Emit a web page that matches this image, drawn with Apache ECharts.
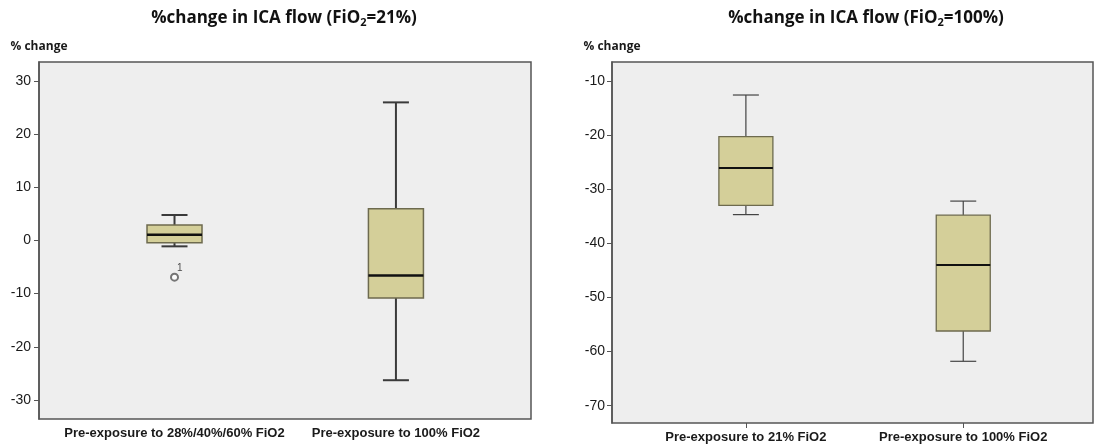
<!DOCTYPE html>
<html>
<head>
<meta charset="utf-8">
<script src="https://cdn.jsdelivr.net/npm/echarts@6/dist/echarts.min.js"></script>
<style>
html,body{margin:0;padding:0;background:#fff;}
#chart{width:1094px;height:448px;}
</style>
</head>
<body>
<div id="chart"></div>
<script>
// ---- data ----
const leftCategories = ['Pre-exposure to 28%/40%/60% FiO2', 'Pre-exposure to 100% FiO2'];
const leftLow  = [-1.1, -26.3];
const leftQ1   = [-0.4, -10.8];
const leftMed  = [1.1, -6.6];
const leftQ3   = [2.9, 6.0];
const leftHigh = [4.8, 26.0];
const leftOutlierCategory = [1];
const leftOutlierValue = [-6.9];
const leftOutlierLabel = ['1'];
const leftTicks = [-30, -20, -10, 0, 10, 20, 30];

const rightCategories = ['Pre-exposure to 21% FiO2', 'Pre-exposure to 100% FiO2'];
const rightLow  = [-34.7, -61.8];
const rightQ1   = [-33.0, -56.2];
const rightMed  = [-26.1, -44.0];
const rightQ3   = [-20.3, -34.8];
const rightHigh = [-12.6, -32.2];
const rightTicks = [-70, -60, -50, -40, -30, -20, -10];

const catPositions = [1, 2];

// ---- build ----
function boxData(low, q1, med, q3, high) {
  return catPositions.map((p, i) => [p, low[i], q1[i], med[i], q3[i], high[i]]);
}

function makeRenderer(st) {
  return function (params, api) {
    const x = api.value(0);
    const pLow = api.coord([x, api.value(1)]);
    const pQ1 = api.coord([x, api.value(2)]);
    const pMed = api.coord([x, api.value(3)]);
    const pQ3 = api.coord([x, api.value(4)]);
    const pHigh = api.coord([x, api.value(5)]);
    const cx = pMed[0];
    const bw = st.boxWidth / 2, cw = st.capWidth / 2;
    const ls = { stroke: st.whisker, lineWidth: st.whiskerWidth };
    return {
      type: 'group',
      children: [
        { type: 'line', shape: { x1: cx, y1: pHigh[1], x2: cx, y2: pQ3[1] }, style: ls },
        { type: 'line', shape: { x1: cx, y1: pQ1[1], x2: cx, y2: pLow[1] }, style: ls },
        { type: 'line', shape: { x1: cx - cw, y1: pHigh[1], x2: cx + cw, y2: pHigh[1] }, style: ls },
        { type: 'line', shape: { x1: cx - cw, y1: pLow[1], x2: cx + cw, y2: pLow[1] }, style: ls },
        { type: 'rect', shape: { x: cx - bw, y: pQ3[1], width: bw * 2, height: pQ1[1] - pQ3[1] },
          style: { fill: '#D4CF99', stroke: '#6d6a4e', lineWidth: st.boxBorder } },
        { type: 'line', shape: { x1: cx - bw, y1: pMed[1], x2: cx + bw, y2: pMed[1] },
          style: { stroke: '#111', lineWidth: st.medianWidth } }
      ]
    };
  };
}

const tickFont = { fontFamily: 'Liberation Sans', fontSize: 14, color: '#1a1a1a' };
const catFont = { fontFamily: 'Liberation Sans', fontSize: 13, fontWeight: 'bold', color: '#1a1a1a' };

function yAxisCfg(grid, min, max, ticks, margin) {
  return {
    type: 'value', gridIndex: grid, min: min, max: max,
    name: '% change', nameLocation: 'end', nameGap: 9,
    nameTextStyle: { fontFamily: 'Open Sans', fontWeight: 'bold', fontSize: 12, color: '#1a1a1a', align: 'center', verticalAlign: 'bottom' },
    axisLine: { show: true, lineStyle: { color: '#555', width: 1.5 } },
    axisTick: { show: true, length: 5, customValues: ticks, lineStyle: { color: '#555' } },
    axisLabel: Object.assign({ customValues: ticks, margin: margin }, tickFont),
    splitLine: { show: false }
  };
}
function xAxisCfg(grid, min, max, cats) {
  return {
    type: 'value', gridIndex: grid, min: min, max: max,
    axisLine: { show: false },
    axisTick: { show: true, length: 5, customValues: catPositions, lineStyle: { color: '#555' } },
    axisLabel: Object.assign({ customValues: catPositions, margin: 8,
      formatter: v => cats[Math.round(v) - 1] || '' }, catFont),
    splitLine: { show: false }
  };
}

function titleText(x, fio) {
  return {
    type: 'text', x: x, y: 18,
    style: {
      text: '{a|%change in ICA flow (FiO}{s|2}{a|=' + fio + ')}',
      align: 'center', verticalAlign: 'middle',
      rich: {
        a: { fontFamily: 'Open Sans', fontWeight: 'bold', fontSize: 17, fill: '#111' },
        s: { fontFamily: 'Open Sans', fontWeight: 'bold', fontSize: 11, fill: '#111', padding: [9, 0, 0, 0] }
      }
    }
  };
}

const chart = echarts.init(document.getElementById('chart'), null, { renderer: 'canvas' });
chart.setOption({
  animation: false,
  backgroundColor: '#fff',
  graphic: [titleText(284, '21%'), titleText(866, '100%')],
  grid: [
    { left: 39, right: 563, top: 62, bottom: 29, show: true, backgroundColor: '#eeeeee', borderColor: '#555', borderWidth: 1.5 },
    { left: 612, right: 1, top: 62, bottom: 25, show: true, backgroundColor: '#eeeeee', borderColor: '#555', borderWidth: 1.5 }
  ],
  xAxis: [
    xAxisCfg(0, 0.388, 2.61, leftCategories),
    xAxisCfg(1, 0.384, 2.597, rightCategories)
  ],
  yAxis: [
    yAxisCfg(0, -33.6, 33.6, leftTicks, 8),
    yAxisCfg(1, -73.2, -6.5, rightTicks, 7)
  ],
  series: [
    {
      type: 'custom', xAxisIndex: 0, yAxisIndex: 0,
      renderItem: makeRenderer({ boxWidth: 55, capWidth: 26, whisker: '#3a3a3a', whiskerWidth: 2, boxBorder: 1.5, medianWidth: 2.5 }),
      encode: { x: 0, y: [1, 2, 3, 4, 5] },
      data: boxData(leftLow, leftQ1, leftMed, leftQ3, leftHigh)
    },
    {
      type: 'scatter', xAxisIndex: 0, yAxisIndex: 0,
      symbol: 'emptyCircle', symbolSize: 7,
      itemStyle: { color: '#555', borderWidth: 1 },
      label: { show: true, position: [7, -9], fontFamily: 'Liberation Sans', fontSize: 10, color: '#222',
        formatter: p => leftOutlierLabel[p.dataIndex] },
      data: leftOutlierCategory.map((c, i) => [c, leftOutlierValue[i]])
    },
    {
      type: 'custom', xAxisIndex: 1, yAxisIndex: 1,
      renderItem: makeRenderer({ boxWidth: 54, capWidth: 26, whisker: '#444', whiskerWidth: 1.2, boxBorder: 1.3, medianWidth: 2 }),
      encode: { x: 0, y: [1, 2, 3, 4, 5] },
      data: boxData(rightLow, rightQ1, rightMed, rightQ3, rightHigh)
    }
  ]
});
</script>
</body>
</html>
